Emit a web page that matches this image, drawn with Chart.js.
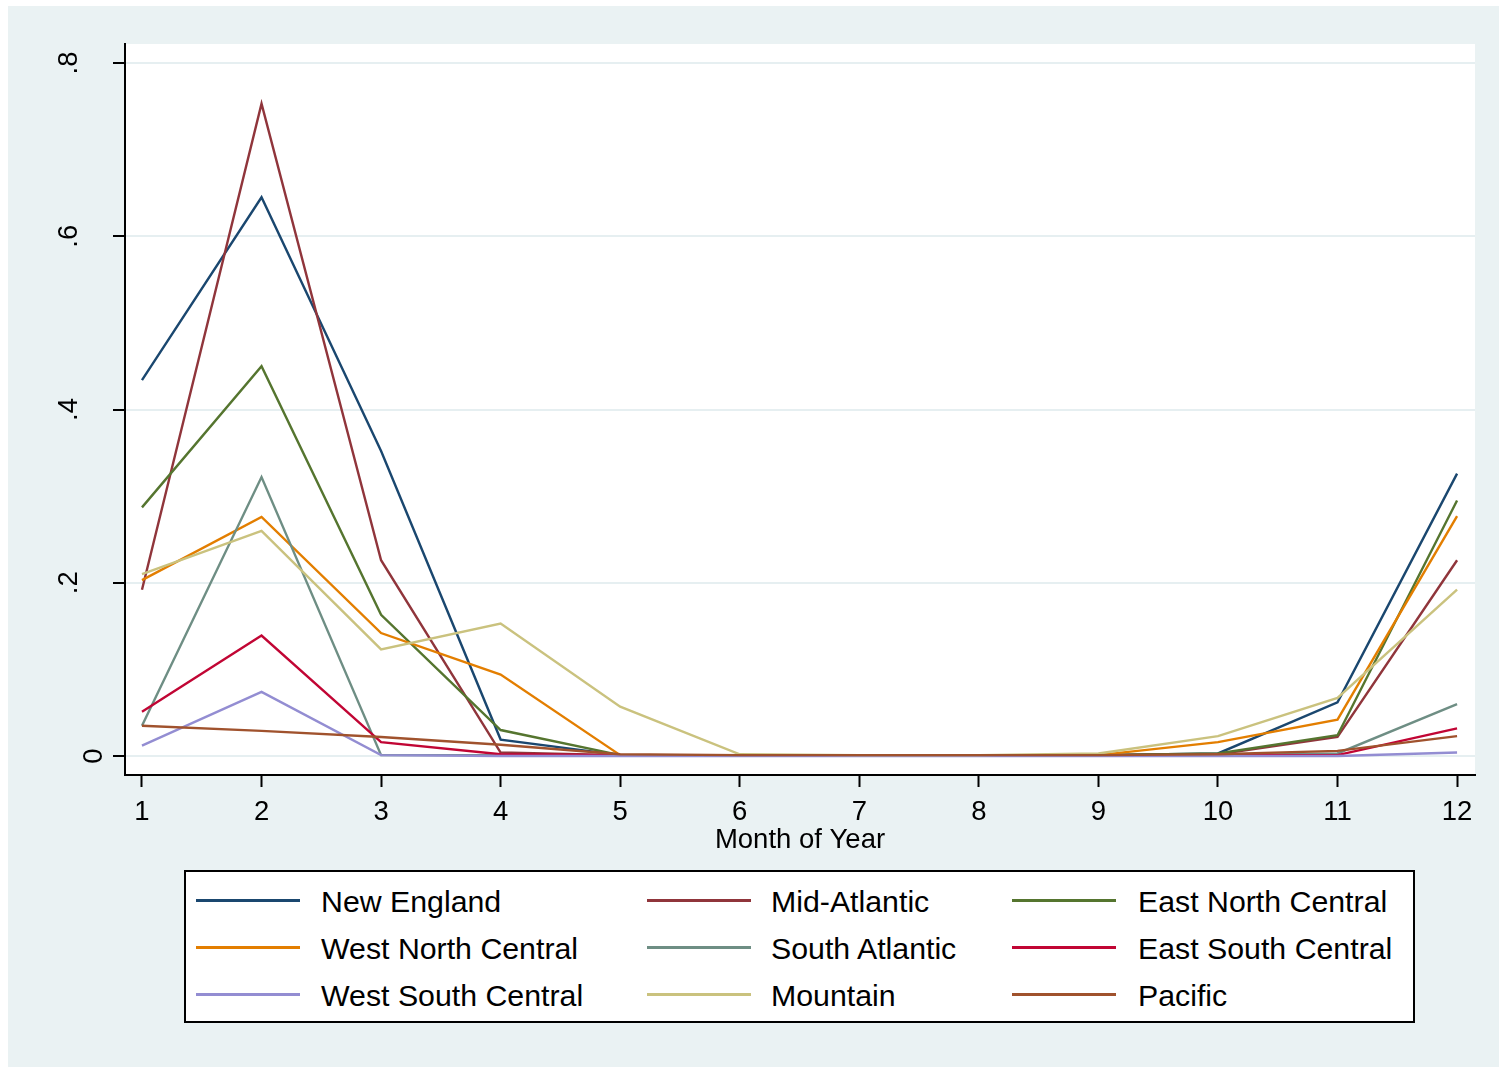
<!DOCTYPE html>
<html>
<head>
<meta charset="utf-8">
<script src="https://cdn.jsdelivr.net/npm/chart.js@4.4.1/dist/chart.umd.min.js"></script>
<style>
  html, body { margin: 0; padding: 0; background: #ffffff; }
  #wrap { position: relative; width: 1499px; height: 1067px; overflow: hidden; }
  #c { position: absolute; left: 0; top: 0; }
  #legend { position: absolute; left: 184px; top: 870px; width: 1231px; height: 153px;
            box-sizing: border-box; border: 2px solid #000; background: #fff; }
  .lg-line { position: absolute; height: 2.5px; width: 104px; }
  .lg-text { position: absolute; font-family: "Liberation Sans", Arial, sans-serif; font-size: 30.3px;
             line-height: 34px; color: #000; white-space: nowrap; }
</style>
</head>
<body>
<div id="wrap">
  <canvas id="c" width="1499" height="1067"></canvas>
  <div id="legend"></div>
</div>
<script>
// ---- data ----
const months = [1, 2, 3, 4, 5, 6, 7, 8, 9, 10, 11, 12];
const seriesNames = ["New England", "Mid-Atlantic", "East North Central",
                     "West North Central", "South Atlantic", "East South Central",
                     "West South Central", "Mountain", "Pacific"];
const newEngland       = [0.434, 0.645, 0.352, 0.019, 0.001, 0.001, 0.001, 0.001, 0.001, 0.003, 0.062, 0.326];
const midAtlantic      = [0.192, 0.753, 0.226, 0.004, 0.001, 0.001, 0.001, 0.001, 0.001, 0.002, 0.022, 0.226];
const eastNorthCentral = [0.287, 0.450, 0.163, 0.030, 0.001, 0.001, 0.001, 0.001, 0.001, 0.003, 0.024, 0.295];
const westNorthCentral = [0.203, 0.276, 0.142, 0.094, 0.001, 0.001, 0.001, 0.001, 0.001, 0.016, 0.042, 0.277];
const southAtlantic    = [0.035, 0.322, 0.001, 0.001, 0.001, 0.001, 0.001, 0.001, 0.001, 0.001, 0.003, 0.060];
const eastSouthCentral = [0.051, 0.139, 0.016, 0.002, 0.001, 0.001, 0.001, 0.001, 0.001, 0.001, 0.001, 0.032];
const westSouthCentral = [0.012, 0.074, 0.001, 0.000, 0.000, 0.000, 0.000, 0.000, 0.000, 0.000, 0.000, 0.004];
const mountain         = [0.210, 0.260, 0.123, 0.153, 0.057, 0.002, 0.001, 0.001, 0.003, 0.023, 0.067, 0.192];
const pacific          = [0.035, 0.029, 0.022, 0.013, 0.002, 0.001, 0.001, 0.001, 0.001, 0.002, 0.006, 0.023];
const yTickValues = [0, 0.2, 0.4, 0.6, 0.8];
const yTickLabels = ["0", ".2", ".4", ".6", ".8"];
const xTitle = "Month of Year";

// ---- styles ----
const seriesValues = [newEngland, midAtlantic, eastNorthCentral, westNorthCentral,
                      southAtlantic, eastSouthCentral, westSouthCentral, mountain, pacific];
const colors = ["#1a476f", "#90353b", "#55752f", "#e37e00", "#6e8e84",
                "#c10534", "#938dd2", "#cac27e", "#a0522d"];
const FONT = '"Liberation Sans", Arial, sans-serif';
const BG = '#eaf2f3';

const datasets = seriesNames.map((name, i) => ({
  label: name,
  data: seriesValues[i],
  borderColor: colors[i],
  backgroundColor: colors[i],
  borderWidth: 2.4,
  pointRadius: 0,
  tension: 0,
  fill: false,
  order: seriesNames.length - i
}));

const bgPlugin = {
  id: 'bg',
  beforeDraw(chart) {
    const ctx = chart.ctx;
    const a = chart.chartArea;
    ctx.save();
    ctx.fillStyle = '#ffffff';
    ctx.fillRect(0, 0, chart.width, chart.height);
    ctx.fillStyle = BG;
    ctx.fillRect(8, 6, chart.width - 8, chart.height - 6);
    ctx.fillStyle = '#ffffff';
    ctx.fillRect(a.left, a.top, a.right - a.left, a.bottom - a.top);
    ctx.restore();
  }
};

const yLabelPlugin = {
  id: 'ylabels',
  afterDraw(chart) {
    const ctx = chart.ctx;
    const ys = chart.scales.y;
    ctx.save();
    ctx.fillStyle = '#000';
    ctx.font = '27.5px ' + FONT;
    ctx.textAlign = 'center';
    ctx.textBaseline = 'alphabetic';
    yTickValues.forEach((v, i) => {
      const py = ys.getPixelForValue(v);
      const lab = yTickLabels[i];
      const bx = ys.right - (lab.length > 1 ? 48 : 23);
      ctx.save();
      ctx.translate(bx, py);
      ctx.rotate(-Math.PI / 2);
      ctx.fillText(lab, 0, 0);
      ctx.restore();
    });
    ctx.restore();
  }
};

new Chart(document.getElementById('c'), {
  type: 'line',
  data: { labels: months, datasets },
  options: {
    responsive: false,
    devicePixelRatio: 1,
    animation: false,
    events: [],
    layout: { padding: { top: 44, right: 24, left: 8, bottom: 210 } },
    plugins: { legend: { display: false }, tooltip: { enabled: false } },
    scales: {
      x: {
        type: 'linear',
        min: 0.858,
        max: 12.15,
        afterBuildTicks(s) { s.ticks = months.map(v => ({ value: v })); },
        afterFit(s) { s.height = 82; },
        ticks: { color: '#000', font: { family: FONT, size: 27.5 }, padding: 9, maxRotation: 0, autoSkip: false },
        grid: { drawOnChartArea: false, drawTicks: true, tickLength: 12, tickColor: '#000', tickWidth: 2 },
        border: { display: true, color: '#000', width: 2 },
        title: { display: true, text: xTitle, color: '#000', font: { family: FONT, size: 27.5, lineHeight: 1.2 }, padding: 0 }
      },
      y: {
        type: 'linear',
        min: -0.0219,
        max: 0.8219,
        afterBuildTicks(s) { s.ticks = yTickValues.map(v => ({ value: v })); },
        afterFit(s) { s.width = 117; },
        ticks: { display: false },
        grid: { color: '#e6eff1', lineWidth: 2, drawTicks: true, tickLength: 12, tickColor: '#000', tickWidth: 2 },
        border: { display: true, color: '#000', width: 2 }
      }
    }
  },
  plugins: [bgPlugin, yLabelPlugin]
});

// ---- legend (HTML) ----
const legend = document.getElementById('legend');
const colLine = [196, 647, 1012];
const colText = [321, 771, 1138];
const rowY = [900, 947, 994];
seriesNames.forEach((name, i) => {
  const col = i % 3, row = Math.floor(i / 3);
  const ln = document.createElement('div');
  ln.className = 'lg-line';
  ln.style.left = (colLine[col] - 184 - 2) + 'px';
  ln.style.top = (rowY[row] - 870 - 2 - 1) + 'px';
  ln.style.background = colors[i];
  legend.appendChild(ln);
  const tx = document.createElement('div');
  tx.className = 'lg-text';
  tx.textContent = name;
  tx.style.left = (colText[col] - 184 - 2) + 'px';
  tx.style.top = (rowY[row] + 1.5 - 16.6 - 870 - 2) + 'px';
  legend.appendChild(tx);
});
</script>
</body>
</html>
